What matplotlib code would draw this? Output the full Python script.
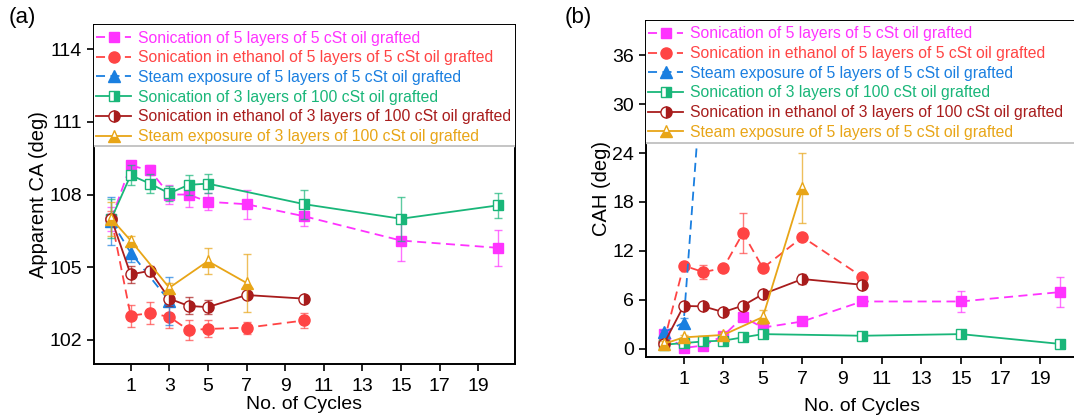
import matplotlib.pyplot as plt

plt.rcParams['font.family'] = ['Liberation Sans', 'DejaVu Sans']

# colours of the six treatments
c_pink = '#FF33FF'
c_red = '#FF4444'
c_blue = '#1A7FE0'
c_green = '#19B679'
c_dred = '#A81C1C'
c_orange = '#E8A517'

# ---- (a) apparent contact angle ----
a_pink_x = [0, 1, 2, 3, 4, 5, 7, 10, 15, 20]
a_pink_y = [107.0, 109.2, 109.0, 108.0, 108.0, 107.7, 107.6, 107.1, 106.1, 105.8]
a_pink_e = [0.5, 0.2, 0.2, 0.4, 0.5, 0.35, 0.6, 0.4, 0.85, 0.75]

a_red_x = [0, 1, 2, 3, 4, 5, 7, 10]
a_red_y = [107.0, 103.0, 103.1, 102.95, 102.4, 102.45, 102.5, 102.8]
a_red_e = [0.3, 0.45, 0.45, 0.45, 0.4, 0.35, 0.25, 0.3]

a_blue_x = [0, 1, 3]
a_blue_y = [106.9, 105.6, 103.6]
a_blue_e = [1.0, 0.4, 1.0]

a_green_x = [0, 1, 2, 3, 4, 5, 10, 15, 20]
a_green_y = [107.0, 108.8, 108.45, 108.05, 108.4, 108.45, 107.6, 107.0, 107.55]
a_green_e = [0.8, 0.4, 0.4, 0.3, 0.4, 0.4, 0.6, 0.9, 0.5]

a_dred_x = [0, 1, 2, 3, 4, 5, 7, 10]
a_dred_y = [107.0, 104.7, 104.85, 103.7, 103.4, 103.35, 103.85, 103.7]
a_dred_e = [0.2, 0.35, 0.2, 0.3, 0.35, 0.3, 0.1, 0.1]

a_orange_x = [0, 1, 3, 5, 7]
a_orange_y = [107.0, 106.1, 104.15, 105.25, 104.35]
a_orange_e = [0.7, 0.2, 0.2, 0.55, 1.2]

# ---- (b) contact angle hysteresis ----
b_pink_x = [0, 1, 2, 3, 4, 5, 7, 10, 15, 20]
b_pink_y = [1.8, 0.1, 0.4, 1.6, 3.9, 2.6, 3.35, 5.8, 5.8, 6.95]
b_pink_e = [0.3, 0.2, 0.3, 0.3, 0.3, 0.4, 0.3, 0.3, 1.3, 1.8]

b_red_x = [0, 1, 2, 3, 4, 5, 7, 10]
b_red_y = [0.8, 10.2, 9.4, 9.9, 14.2, 9.9, 13.7, 8.85]
b_red_e = [0.2, 0.3, 0.9, 0.3, 2.4, 0.3, 0.3, 0.3]

b_blue_x = [0, 1, 3]
b_blue_y = [2.0, 3.2, 69.0]
b_blue_e = [0.3, 0.6, 0.0]

b_green_x = [0, 1, 2, 3, 4, 5, 10, 15, 20]
b_green_y = [0.5, 0.7, 0.9, 1.0, 1.4, 1.8, 1.6, 1.8, 0.6]
b_green_e = [0.2, 0.2, 0.2, 0.2, 0.2, 0.2, 0.2, 0.2, 0.2]

b_dred_x = [0, 1, 2, 3, 4, 5, 7, 10]
b_dred_y = [0.6, 5.25, 5.2, 4.5, 5.3, 6.7, 8.55, 7.85]
b_dred_e = [0.2, 0.3, 0.3, 0.3, 0.3, 0.3, 0.6, 0.3]

b_orange_x = [0, 1, 3, 5, 7]
b_orange_y = [0.6, 1.4, 1.7, 3.9, 19.7]
b_orange_e = [0.3, 0.3, 0.3, 0.9, 4.3]

labels_a = ['Sonication of 5 layers of 5 cSt oil grafted',
            'Sonication in ethanol of 5 layers of 5 cSt oil grafted',
            'Steam exposure of 5 layers of 5 cSt oil grafted',
            'Sonication of 3 layers of 100 cSt oil grafted',
            'Sonication in ethanol of 3 layers of 100 cSt oil grafted',
            'Steam exposure of 3 layers of 100 cSt oil grafted']
labels_b = labels_a[:5] + ['Steam exposure of 5 layers of 5 cSt oil grafted']

xticks = [1, 3, 5, 7, 9, 11, 13, 15, 17, 19]

dash = (0, (5, 3))
styles = [
    dict(color=c_pink, ls=dash, marker='s', ms=7),
    dict(color=c_red, ls=dash, marker='o', ms=8),
    dict(color=c_blue, ls=dash, marker='^', ms=8),
    dict(color=c_green, ls='-', marker='s', ms=7, fillstyle='right', markerfacecoloralt='white'),
    dict(color=c_dred, ls='-', marker='o', ms=8, fillstyle='right', markerfacecoloralt='white'),
    dict(color=c_orange, ls='-', marker='^', ms=8, fillstyle='bottom', markerfacecoloralt='white'),
]


def draw(ax, series, labels, ytop, ylim, yticks, ylabel, xlabelpad):
    handles = []
    for (x, y, e), st in zip(series, styles):
        ax.errorbar(x, y, yerr=e, fmt='none', ecolor=st['color'], elinewidth=1,
                    capsize=3, alpha=0.7, zorder=2)
        ln, = ax.plot(x, y, lw=1.3, markeredgewidth=1, zorder=2, **st)
        handles.append(ln)
    # white strip holding the legend, cut off by a grey rule
    ax.axhspan(ytop, ylim[1], color='white', zorder=3)
    ax.axhline(ytop, color='#BBBBBB', lw=1.2, zorder=3.5)
    leg = ax.legend(handles, labels, loc='upper left', bbox_to_anchor=(-0.008, 1.0),
                    frameon=False, fontsize=11.3, handlelength=2.25, handletextpad=0.45,
                    labelspacing=0.3, borderpad=0.35, borderaxespad=0.0,
                    labelcolor='linecolor')
    leg.set_zorder(4)
    ax.set_xlim(-0.9, 20.9)
    ax.set_ylim(*ylim)
    ax.set_xticks(xticks)
    ax.set_yticks(yticks)
    ax.tick_params(direction='out', length=5, width=1.2, labelsize=14)
    ax.tick_params(axis='x', pad=5)
    for s in ax.spines.values():
        s.set_linewidth(1.4)
    ax.set_xlabel('No. of Cycles', fontsize=14, labelpad=xlabelpad)
    ax.set_ylabel(ylabel, fontsize=14.5, labelpad=1)


fig = plt.figure(figsize=(10.74, 4.17), dpi=100)
ax1 = fig.add_axes([0.0875, 0.127, 0.392, 0.813])
ax2 = fig.add_axes([0.6015, 0.144, 0.402, 0.806])

draw(ax1,
     [(a_pink_x, a_pink_y, a_pink_e), (a_red_x, a_red_y, a_red_e),
      (a_blue_x, a_blue_y, a_blue_e), (a_green_x, a_green_y, a_green_e),
      (a_dred_x, a_dred_y, a_dred_e), (a_orange_x, a_orange_y, a_orange_e)],
     labels_a, 110.0, (101.0, 115.0), [102, 105, 108, 111, 114], 'Apparent CA (deg)', 1)
draw(ax2,
     [(b_pink_x, b_pink_y, b_pink_e), (b_red_x, b_red_y, b_red_e),
      (b_blue_x, b_blue_y, b_blue_e), (b_green_x, b_green_y, b_green_e),
      (b_dred_x, b_dred_y, b_dred_e), (b_orange_x, b_orange_y, b_orange_e)],
     labels_b, 25.2, (-1.0, 40.2), [0, 6, 12, 18, 24, 30, 36], 'CAH (deg)', 7)

fig.text(0.008, 0.945, '(a)', fontsize=16)
fig.text(0.526, 0.945, '(b)', fontsize=16)

fig.savefig('out.png', dpi=100)
